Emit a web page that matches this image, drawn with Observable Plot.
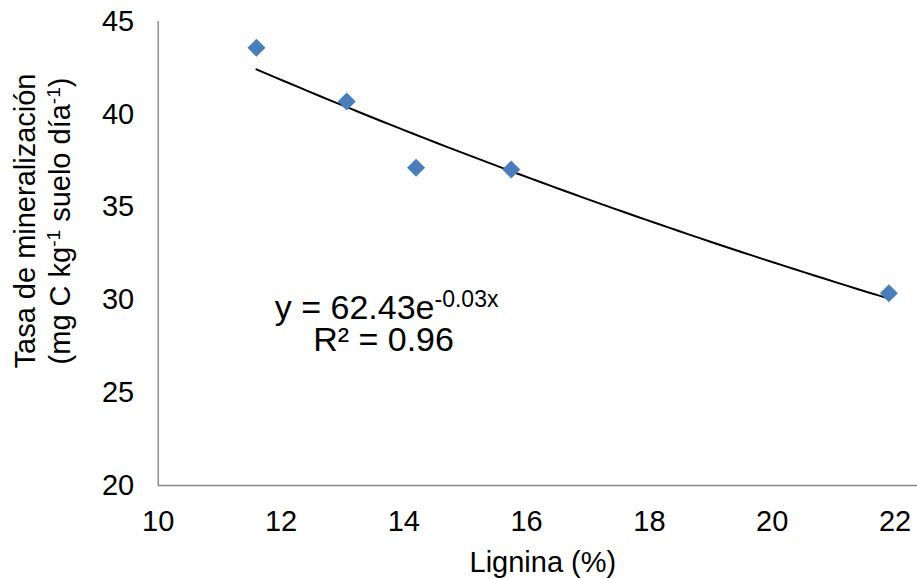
<!DOCTYPE html>
<html>
<head>
<meta charset="utf-8">
<script src="https://cdn.jsdelivr.net/npm/d3@7"></script>
<script src="https://cdn.jsdelivr.net/npm/@observablehq/plot@0.6"></script>
<style>
  html, body { margin: 0; padding: 0; background: #fff; }
  #chart { width: 917px; height: 579px; }
</style>
</head>
<body>
<div id="chart"></div>
<script>
// ---- data ----
const lignina = [11.6, 13.07, 14.2, 15.75, 21.9];        // x: Lignina (%)
const tasa    = [43.58, 40.69, 37.12, 37.03, 30.36];     // y: Tasa de mineralización
const xTicks = [10, 12, 14, 16, 18, 20, 22];
const yTicks = [20, 25, 30, 35, 40, 45];
const xLabel = "Lignina (%)";
const yTitle1 = "Tasa de mineralización";
const yTitle2 = "(mg C kg-1 suelo día-1)";
const eqLine1 = "y = 62.43e-0.03x";
const eqLine2 = "R² = 0.96";
const eqPosX = [13.72, 13.67];
const eqPosY = [29.55, 27.85];

// ---- exponential trendline fitted (least squares on ln y), as the spreadsheet does ----
const points = lignina.map((x, i) => ({x, y: tasa[i]}));
const mx = d3.mean(lignina), my = d3.mean(tasa, v => Math.log(v));
const b = d3.sum(points, p => (p.x - mx) * (Math.log(p.y) - my)) / d3.sum(points, p => (p.x - mx) ** 2);
const a = Math.exp(my - b * mx);
const [x0, x1] = d3.extent(lignina);
const trend = d3.range(0, 61).map(i => { const x = x0 + (x1 - x0) * i / 60; return {x, y: a * Math.exp(b * x)}; });

const eqData = [
  {x: eqPosX[0], y: eqPosY[0], t: eqLine1},
  {x: eqPosX[1], y: eqPosY[1], t: eqLine2}
];

const FONT = "'Liberation Sans', Arial, Helvetica, sans-serif";
const plot = Plot.plot({
  width: 917,
  height: 579,
  marginLeft: 157.7,
  marginRight: 0,
  marginTop: 21,
  marginBottom: 94,
  style: {fontFamily: FONT, fontSize: "29px", color: "#000", background: "#fff"},
  x: {domain: [10, 22.366]},
  y: {domain: [20, 45]},
  marks: [
    Plot.axisX({ticks: xTicks, tickSize: 0, tickPadding: 25, fontSize: 29, label: null, tickFormat: d => String(d)}),
    Plot.axisY({ticks: yTicks, tickSize: 0, tickPadding: 24, fontSize: 29, label: null, tickFormat: d => String(d)}),
    Plot.ruleX([10], {stroke: "#868686", strokeWidth: 1.4}),
    Plot.ruleY([20], {stroke: "#868686", strokeWidth: 1.4}),
    Plot.line(trend, {x: "x", y: "y", stroke: "#000", strokeWidth: 2}),
    Plot.dot(points, {x: "x", y: "y", symbol: "diamond2", r: 8.1, fill: "#4A7EBB", stroke: "none"}),
    Plot.text(eqData, {x: "x", y: "y", text: "t", fontSize: 34, textAnchor: "middle", lineAnchor: "middle", fill: "#000"}),
    Plot.text([xLabel], {frameAnchor: "bottom", lineAnchor: "bottom", textAnchor: "middle", dx: 5, dy: 86, fontSize: 29, fill: "#000"}),
    Plot.text([yTitle1], {frameAnchor: "left", rotate: -90, textAnchor: "middle", lineAnchor: "bottom", dx: -123.7, dy: -32.5, fontSize: 29, fill: "#000"}),
    Plot.text([yTitle2], {frameAnchor: "left", rotate: -90, textAnchor: "middle", lineAnchor: "bottom", dx: -88.7, dy: -32.5, fontSize: 29, fill: "#000"})
  ]
});
document.getElementById("chart").appendChild(plot);

// ---- superscripts as real tspans ----
function supify(parts, mainSize, shift, k) {
  d3.select(plot).selectAll("text").each(function() {
    const el = d3.select(this);
    const joined = parts.map(p => p[0]).join("");
    if (this.textContent !== joined) return;
    el.text(null);
    let raised = false;
    parts.forEach(([s, sup]) => {
      const ts = el.append("tspan").text(s);
      if (sup && !raised) { ts.attr("dy", -shift).attr("font-size", Math.round(mainSize * k)); raised = true; }
      else if (sup) { ts.attr("font-size", Math.round(mainSize * k)); }
      else if (!sup && raised) { ts.attr("dy", shift); raised = false; }
    });
  });
}
supify([["(mg C kg", false], ["-1", true], [" suelo día", false], ["-1", true], [")", false]], 29, 10, 0.64);
supify([["y = 62.43e", false], ["-0.03x", true]], 34, 12, 0.68);
</script>
</body>
</html>
